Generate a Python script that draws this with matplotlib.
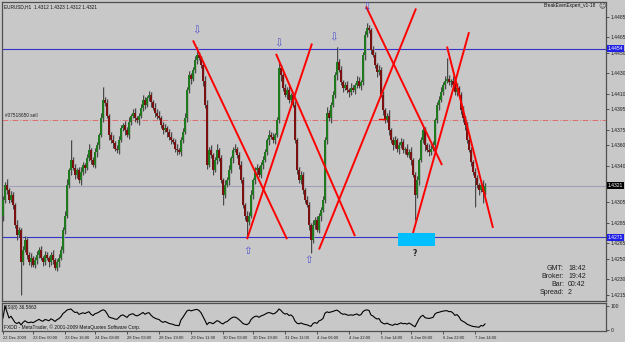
import numpy as np
import matplotlib

matplotlib.use("Agg")
import matplotlib.pyplot as plt
import matplotlib.transforms as mtransforms

# EURUSD H1 closes
closes = [
    1.4307, 1.4322, 1.4317, 1.4307, 1.4312, 1.4302, 1.4283, 1.4273, 1.4278, 1.4247,
    1.4259, 1.4268, 1.4254, 1.4247, 1.4251, 1.4244, 1.4249, 1.4254, 1.4259, 1.4251,
    1.4247, 1.4254, 1.4251, 1.4247, 1.4254, 1.4249, 1.4241, 1.4247, 1.4251, 1.4259,
    1.4278, 1.4292, 1.4322, 1.4336, 1.4346, 1.4338, 1.4331, 1.4336, 1.4326, 1.4334,
    1.4341, 1.4338, 1.4348, 1.4356, 1.4346, 1.4341, 1.4354, 1.4360, 1.4370, 1.4387,
    1.4404, 1.4401, 1.4389, 1.4370, 1.4365, 1.4362, 1.4357, 1.4356, 1.4365, 1.4377,
    1.4380, 1.4375, 1.4370, 1.4383, 1.4389, 1.4392, 1.4387, 1.4385, 1.4389, 1.4396,
    1.4404, 1.4399, 1.4406, 1.4409, 1.4402, 1.4396, 1.4392, 1.4389, 1.4387, 1.4380,
    1.4375, 1.4377, 1.4373, 1.4368, 1.4365, 1.4363, 1.4357, 1.4356, 1.4354, 1.4365,
    1.4373, 1.4387, 1.4414, 1.4428, 1.4425, 1.4433, 1.4443, 1.4448, 1.4445, 1.4438,
    1.4423, 1.4399, 1.4341, 1.4356, 1.4351, 1.4336, 1.4346, 1.4356, 1.4348, 1.4326,
    1.4312, 1.4322, 1.4326, 1.4336, 1.4348, 1.4356, 1.4357, 1.4351, 1.4341, 1.4326,
    1.4302, 1.4292, 1.4286, 1.4292, 1.4312, 1.4326, 1.4336, 1.4338, 1.4331, 1.4341,
    1.4346, 1.4354, 1.4365, 1.4370, 1.4368, 1.4365, 1.4370, 1.4385, 1.4435, 1.4428,
    1.4416, 1.4409, 1.4414, 1.4404, 1.4409, 1.4399, 1.4365, 1.4336, 1.4326, 1.4331,
    1.4317, 1.4307, 1.4302, 1.4283, 1.4268, 1.4283, 1.4288, 1.4278, 1.4292, 1.4297,
    1.4307, 1.4365, 1.4392, 1.4387, 1.4399, 1.4409, 1.4428, 1.4441, 1.4433, 1.4422,
    1.4416, 1.4419, 1.4414, 1.4412, 1.4416, 1.4414, 1.4419, 1.4423, 1.4418, 1.4422,
    1.4448, 1.4467, 1.4474, 1.4472, 1.4453, 1.4448, 1.4438, 1.4431, 1.4433, 1.4409,
    1.4394, 1.4385, 1.4389, 1.4375, 1.4365, 1.4360, 1.4365, 1.4357, 1.4360, 1.4363,
    1.4356, 1.4357, 1.4351, 1.4354, 1.4346, 1.4331, 1.4312, 1.4326, 1.4346, 1.4365,
    1.4375, 1.4360, 1.4356, 1.4354, 1.4357, 1.4360, 1.4385, 1.4399, 1.4404, 1.4412,
    1.4419, 1.4423, 1.4425, 1.4422, 1.4423, 1.4419, 1.4412, 1.4416, 1.4409, 1.4394,
    1.4387, 1.4380, 1.4365, 1.4356, 1.4344, 1.4334, 1.4328, 1.4322, 1.4317, 1.4322,
    1.4315, 1.4321,
]
first_open = 1.4292

# wick lengths in pips above / below the body
wick_up = [
    4, 3, 5, 2, 4, 3, 2, 5, 3, 2,
    3, 4, 2, 3, 5, 2, 3, 4, 2, 3,
    2, 4, 3, 2, 3, 5, 2, 3, 4, 3,
    3, 4, 5, 2, 19, 3, 4, 2, 3, 5,
    3, 2, 4, 5, 2, 3, 4, 3, 2, 5,
    13, 3, 4, 2, 3, 5, 2, 3, 4, 3,
    2, 4, 3, 5, 2, 3, 4, 2, 3, 4,
    5, 3, 2, 4, 3, 2, 5, 3, 4, 2,
    3, 4, 2, 3, 5, 2, 3, 4, 2, 3,
    4, 5, 3, 4, 2, 3, 4, 8, 3, 2,
    3, 4, 5, 3, 4, 2, 3, 5, 2, 3,
    2, 4, 3, 5, 2, 3, 4, 2, 3, 4,
    3, 2, 4, 3, 5, 2, 3, 4, 2, 3,
    4, 3, 2, 5, 3, 4, 2, 3, 5, 3,
    2, 4, 3, 5, 2, 3, 4, 2, 3, 4,
    3, 2, 4, 3, 2, 5, 3, 4, 2, 3,
    4, 3, 5, 2, 3, 4, 3, 15, 3, 4,
    2, 3, 4, 2, 5, 3, 2, 4, 3, 2,
    3, 4, 5, 3, 2, 4, 3, 2, 5, 3,
    4, 2, 3, 5, 2, 3, 4, 2, 3, 4,
    3, 2, 4, 3, 5, 2, 3, 4, 2, 3,
    4, 3, 2, 5, 3, 4, 2, 3, 4, 5,
    3, 4, 20, 3, 2, 4, 3, 5, 2, 3,
    4, 2, 3, 5, 3, 2, 4, 3, 2, 3,
    4, 3,
]
wick_dn = [
    5, 3, 4, 3, 2, 4, 3, 5, 2, 32,
    3, 2, 4, 3, 5, 2, 3, 4, 3, 2,
    4, 3, 2, 5, 3, 4, 2, 3, 5, 2,
    3, 4, 2, 3, 5, 2, 4, 3, 2, 4,
    3, 5, 2, 3, 4, 2, 3, 5, 3, 2,
    4, 3, 2, 5, 3, 4, 2, 3, 4, 2,
    3, 5, 2, 4, 3, 2, 4, 3, 5, 2,
    3, 4, 2, 3, 5, 2, 4, 3, 2, 3,
    4, 2, 5, 3, 4, 2, 3, 5, 2, 4,
    3, 2, 4, 3, 5, 2, 3, 4, 2, 3,
    5, 3, 4, 2, 3, 5, 2, 4, 3, 2,
    10, 3, 2, 4, 3, 5, 2, 3, 4, 2,
    3, 4, 15, 3, 2, 4, 3, 5, 2, 3,
    4, 2, 3, 5, 2, 3, 4, 2, 3, 5,
    3, 2, 4, 3, 5, 2, 3, 4, 2, 3,
    4, 3, 2, 5, 12, 3, 4, 2, 3, 5,
    2, 3, 4, 3, 5, 2, 3, 4, 2, 3,
    4, 2, 3, 5, 3, 2, 4, 3, 2, 4,
    3, 5, 2, 3, 4, 2, 3, 5, 3, 2,
    4, 3, 2, 5, 3, 4, 2, 3, 5, 2,
    3, 4, 2, 3, 5, 2, 24, 3, 4, 2,
    3, 5, 2, 4, 3, 2, 4, 3, 5, 2,
    3, 4, 2, 3, 5, 2, 3, 4, 2, 3,
    4, 5, 3, 2, 4, 3, 28, 3, 5, 2,
    11, 3,
]

price_ticks = [1.4485, 1.4465, 1.4450, 1.4430, 1.4410, 1.4395, 1.4375, 1.4360,
               1.4340, 1.4305, 1.4285, 1.4265, 1.4250, 1.4230, 1.4215]
time_ticks = [0, 15, 31, 46, 62, 78, 94, 110, 125, 141, 157, 173, 189, 204, 220, 236]
time_labels = ["22 Dec 2009", "23 Dec 00:00", "23 Dec 16:00", "24 Dec 08:00",
               "28 Dec 03:00", "28 Dec 19:00", "29 Dec 11:00", "30 Dec 03:00",
               "30 Dec 19:00", "31 Dec 11:00", "4 Jan 06:00", "4 Jan 22:00",
               "5 Jan 14:00", "6 Jan 06:00", "6 Jan 22:00", "7 Jan 14:00"]

# objects drawn on the chart: (bar, price)
trendlines = [
    ((95, 1.4462), (142, 1.4269)),
    ((122, 1.4269), (154.5, 1.4459)),
    ((136.5, 1.4449), (176, 1.4272)),
    ((158, 1.4259), (206.5, 1.4493)),
    ((181.5, 1.4495), (219.5, 1.4341)),
    ((205, 1.4275), (233, 1.4470)),
    ((222, 1.4456), (245, 1.4280)),
]
down_arrows = [(97, 1.4472), (138, 1.4459), (165.5, 1.4465), (182, 1.4494)]
up_arrows = [(122.5, 1.4258), (153, 1.4249)]
upper_level = 1.4454
lower_level = 1.4271
bid = 1.4321
sell_level = 1.4385
target_box = (197.5, 216, 1.4262, 1.4275)

info_labels = ["GMT:", "Broker:", "Bar:", "Spread:"]
info_values = ["18:42", "19:42", "00:42", "2"]

BG = "#c8c8c8"
FONT = "Liberation Sans"
W, H = 625, 342


def rsi(values, period):
    values = np.asarray(values)
    deltas = np.diff(values, prepend=values[0])
    gains = np.clip(deltas, 0, None)
    losses = np.clip(-deltas, 0, None)
    out = np.zeros(len(values))
    ag = al = 0.0
    for i in range(len(values)):
        if i < period:
            ag = gains[: i + 1].mean()
            al = losses[: i + 1].mean()
        else:
            ag = (ag * (period - 1) + gains[i]) / period
            al = (al * (period - 1) + losses[i]) / period
        out[i] = 50.0 if ag + al == 0 else 100.0 * ag / (ag + al)
    return out


def fig_text(fig, x, y, s, **kw):
    kw.setdefault("family", FONT)
    fig.text(x / W, 1 - y / H, s, **kw)


pip = 0.0001
n = len(closes)
bars = np.arange(n)
c = np.array(closes)
o = np.array([first_open] + closes[:-1])
highs = np.maximum(o, c) + np.array(wick_up) * pip
lows = np.minimum(o, c) - np.array(wick_dn) * pip

fig = plt.figure(figsize=(W / 100, H / 100), dpi=100, facecolor=BG)
ax = fig.add_axes([2 / W, 41 / H, 604 / W, 299 / H], facecolor=BG)
ax_rsi = fig.add_axes([2 / W, 11 / H, 604 / W, 28 / H], facecolor=BG)

for a in (ax, ax_rsi):
    a.set_xlim(-0.5, 301.5)
    for sp in a.spines.values():
        sp.set_color("#505050")
        sp.set_linewidth(0.9)
    a.yaxis.tick_right()
    a.tick_params(axis="y", length=2, width=0.5, pad=1.5, labelsize=3.6,
                  colors="#202020")
ax.set_ylim(1.42090, 1.44993)

# candles: ghost bars, wicks, bodies
ax.vlines(bars + 0.6, lows, highs, color="#a2a2a2", lw=1.3, alpha=0.75, zorder=2)
ax.vlines(bars, lows, highs, color="#1e1e1e", lw=0.5, zorder=3)
up = c >= o
body_h = np.maximum(np.abs(c - o), 0.00008)
ax.bar(bars[up], body_h[up], bottom=o[up], width=0.75, color="#1f7a1f",
       lw=0, zorder=4)
ax.bar(bars[~up], body_h[~up], bottom=c[~up], width=0.75, color="#7a1010",
       lw=0, zorder=4)

# levels
ax.axhline(upper_level, color="#3434c8", lw=0.8, zorder=1)
ax.axhline(lower_level, color="#3434c8", lw=0.8, zorder=1)
ax.axhline(bid, color="#a0a0b8", lw=0.8, zorder=1)
ax.axhline(sell_level, color="#e06060", lw=0.6, ls=(0, (7, 2, 1, 2)), zorder=1)
ax.plot([188, 191], [sell_level + 0.0001] * 2, color="#ff0000", lw=1.0, zorder=5)
ax.text(1, sell_level + 0.00012, "#07518650 sell", fontsize=3.4, family=FONT,
        color="#202020", va="bottom", ha="left")

for (x0, p0), (x1, p1) in trendlines:
    ax.plot([x0, x1], [p0, p1], color="#ff0000", lw=1.4, zorder=6,
            solid_capstyle="butt")

for x, p in down_arrows:
    ax.text(x, p, "\u21e9", color="#5050d0", fontsize=7.5, ha="center",
            va="center", family="DejaVu Sans", zorder=7)
for x, p in up_arrows:
    ax.text(x, p, "\u21e7", color="#5050d0", fontsize=7.5, ha="center",
            va="center", family="DejaVu Sans", zorder=7)

bx0, bx1, bp0, bp1 = target_box
ax.fill_between([bx0, bx1], bp0, bp1, color="#00bfff", lw=0, zorder=6)
ax.text(206, 1.4255, "?", fontsize=5.5, fontweight="bold", ha="center",
        va="center", color="#202020", family="DejaVu Sans")

# price axis
ax.set_yticks(price_ticks)
ax.set_yticklabels([f"{p:.4f}" for p in price_ticks], family=FONT)
ax.set_xticks([])
trans = mtransforms.blended_transform_factory(ax.transAxes, ax.transData)
for level, bg in ((upper_level, "#2020e8"), (lower_level, "#2020e8"), (bid, "#000000")):
    ax.text(1.003, level, f"{level:.4f}", transform=trans, fontsize=3.6,
            family=FONT, color="white", ha="left", va="center", zorder=10,
            clip_on=False,
            bbox=dict(boxstyle="square,pad=0.2", fc=bg, ec="none"))

# RSI pane
ax_rsi.plot(bars, rsi(closes, 8), color="#000000", lw=0.8)
ax_rsi.set_ylim(-4.2, 112.5)
ax_rsi.set_yticks([0, 100])
ax_rsi.set_yticklabels(["0", "100"], family=FONT)
ax_rsi.set_xticks(time_ticks)
ax_rsi.set_xticklabels(time_labels, fontsize=3.0, family=FONT, ha="left")
ax_rsi.tick_params(axis="x", length=2.5, width=0.5, pad=1, colors="#202020")

# header / footer texts
fig_text(fig, 4, 7, "EURUSD,H1  1.4312 1.4323 1.4312 1.4321", fontsize=3.4,
         va="center", color="#101010")
fig_text(fig, 596, 6, "BreakEvenExpert_v1-18", fontsize=3.4, va="center",
         ha="right", color="#101010")
fig_text(fig, 602, 6, "\u263a", fontsize=5, va="center", ha="center",
         color="#404040", family="DejaVu Sans")
fig_text(fig, 4, 307, "RSI(8) 36.5863", fontsize=3.4, va="center",
         color="#101010")
fig_text(fig, 4, 327, "FXDD - MetaTrader, \u00a9 2001-2009 MetaQuotes Software Corp.",
         fontsize=3.5, va="center", color="#101010")

for k, (lab, val) in enumerate(zip(info_labels, info_values)):
    y = 268 + 8 * k
    fig_text(fig, 564, y, lab, fontsize=5, ha="right", va="center",
             color="#202020")
    fig_text(fig, 568, y, val, fontsize=5, ha="left", va="center",
             color="#202020")

fig.savefig("out.png", dpi=100, facecolor=BG)
